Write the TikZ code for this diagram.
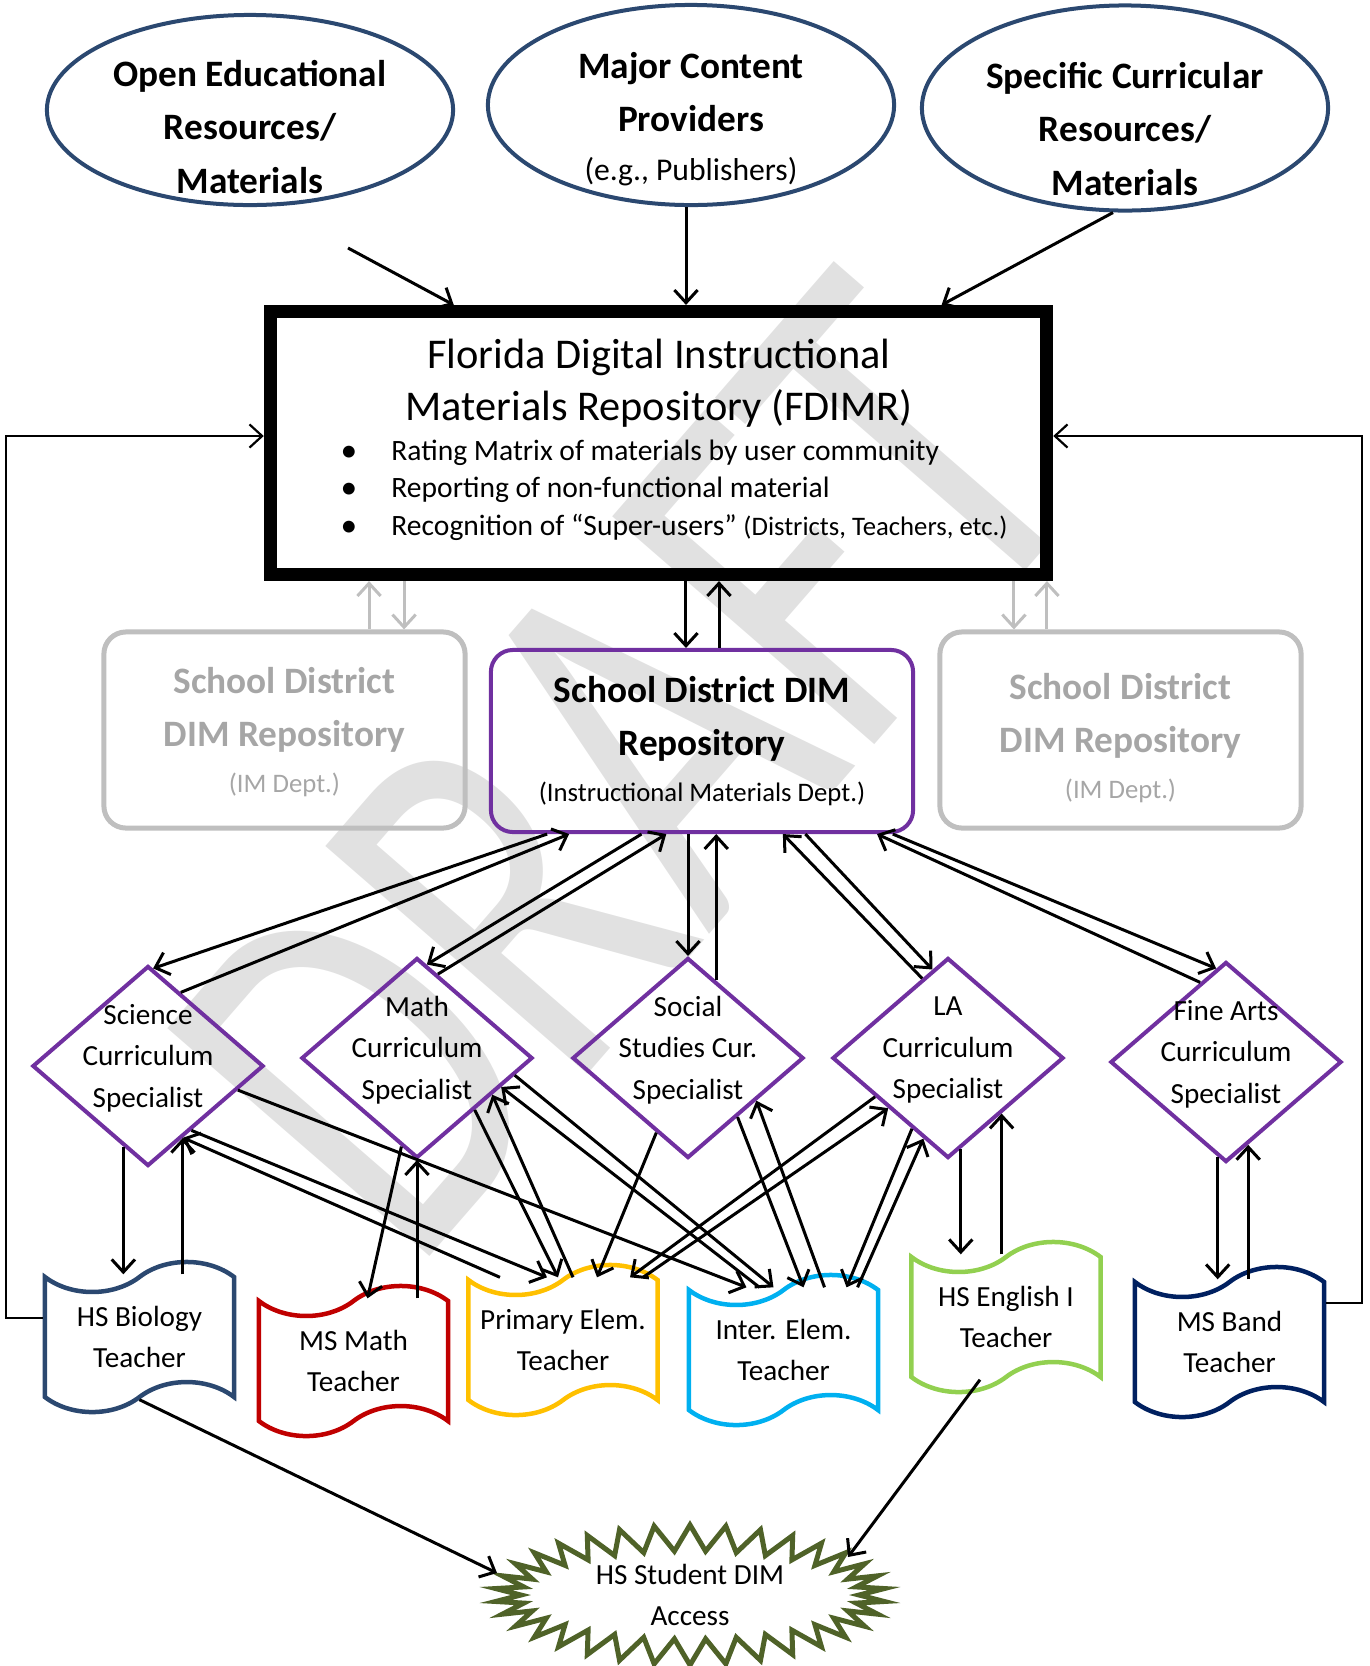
\documentclass[tikz,border=0pt]{standalone}
\usepackage{graphicx}
\usepackage{fontspec}
\setmainfont{Carlito}
\usetikzlibrary{shapes.geometric,shapes.symbols,arrows.meta,calc}

\definecolor{dimpurple}{HTML}{7030A0}
\definecolor{srcblue}{HTML}{2B4870}
\definecolor{boxgray}{HTML}{BFBFBF}
\definecolor{graytext}{HTML}{A6A6A6}
\definecolor{wmgray}{HTML}{E1E1E1}
\definecolor{biocol}{HTML}{2B4870}
\definecolor{mathcol}{HTML}{C00000}
\definecolor{primcol}{HTML}{FFC000}
\definecolor{intercol}{HTML}{00B0F0}
\definecolor{engcol}{HTML}{92D050}
\definecolor{bandcol}{HTML}{002060}
\definecolor{starcol}{HTML}{4F6228}

\newcommand{\txtbody}{\fontsize{8.3}{11.8}\selectfont}
\newcommand{\txtbig}{\fontsize{10.6}{15.1}\selectfont\bfseries}
\newcommand{\txtsmall}{\fontsize{7.6}{10}\selectfont\mdseries}
\newcommand{\txttitle}{\fontsize{12.05}{14.8}\selectfont}

\begin{document}
\begin{tikzpicture}[
    x=0.01cm, y=-0.01cm,
    src/.style={ellipse, draw=srcblue, line width=0.04cm, minimum width=4.06cm, minimum height=1.9cm, inner sep=0pt},
    srctext/.style={align=center, font=\txtbig, yshift=-0.17cm},
    repo/.style={rectangle, draw, line width=0.13cm, minimum width=7.76cm, minimum height=2.63cm},
    sdbox/.style={rectangle, rounded corners=0.22cm, draw=dimpurple, line width=0.04cm, minimum width=4.22cm, minimum height=1.82cm, align=center, font=\txtbig},
    graybox/.style={rectangle, rounded corners=0.22cm, draw=boxgray, line width=0.05cm, minimum width=3.61cm, minimum height=1.96cm, inner sep=0pt},
    graytext/.style={align=center, font=\txtbig, text=graytext},
    spec/.style={diamond, draw=dimpurple, line width=0.04cm, minimum width=2.31cm, minimum height=2cm, inner sep=0pt},
    spectext/.style={align=center, font=\txtbody, yshift=0.08cm},
    teacher/.style={tape, draw, line width=0.045cm, minimum width=1.89cm, minimum height=1.5cm, tape bend height=0.3cm, align=center, font=\txtbody},
    burst/.style={starburst, draw=starcol, line width=0.05cm, starburst points=34, starburst point height=0.26cm, random starburst=0, inner sep=0pt},
    arr/.style={-{Straight Barb[length=3.6pt,width=6.6pt]}, line width=0.03cm},
    garr/.style={arr, draw=boxgray},
    fb/.style={-{Straight Barb[length=3.6pt,width=6.6pt]}, line width=0.022cm},
    wmark/.style={text=wmgray, inner sep=0pt, rotate=49}
]
\useasboundingbox (0,0) rectangle (1369,1666);
% watermark
\node[wmark] (draft) at (625,767) {\resizebox{10.46cm}{3.47cm}{DRAFT}};

% sources
\node[src, label={[srctext]center:Open Educational\\Resources/\\Materials}] (oer) at (250,110) {};
\node[src, minimum height=2cm, label={[srctext,yshift=0.03cm]center:Major Content\\Providers\\[-1.2pt]\fontsize{9}{11}\selectfont\mdseries (e.g., Publishers)}] (mcp) at (691,105) {};
\node[src, minimum height=2.05cm, label={[srctext,yshift=-0.04cm]center:Specific Curricular\\Resources/\\Materials}] (scr) at (1125,108) {};

% state repository
\node[repo] (fdimr) at (658.5,443) {};
\node[font=\txttitle, align=center] (fdname) at (659,383) {Florida Digital Instructional\\Materials Repository (FDIMR)};
\foreach \txt [count=\i] in {Rating Matrix of materials by user community, Reporting of non-functional material, {Recognition of “Super-users” {\txtsmall (Districts, Teachers, etc.)}}} {
  \node[font=\fontsize{9.5}{11}\selectfont, anchor=base] (fddot\i) at (349, 423.5+37.5*\i) {\textbullet};
  \node[font=\fontsize{8.4}{11}\selectfont, anchor=base west] (fdpt\i) at (379, 422.5+37.5*\i) {\txt};
}

% district repositories
\node[sdbox] (sd) at (702,741) {School District DIM\\Repository\\[-2pt]\txtsmall (Instructional Materials Dept.)};
\node[graybox, label={[graytext,yshift=-0.02cm]center:School District\\DIM Repository\\[-2pt]\txtsmall (IM Dept.)}] (gl) at (284.5,730) {};
\node[graybox, label={[graytext,yshift=-0.08cm]center:School District\\DIM Repository\\[-2pt]\txtsmall (IM Dept.)}] (gr) at (1120.5,730) {};

% curriculum specialists
\node[spec, label={[spectext]center:Science\\Curriculum\\Specialist}] (sci) at (148,1066) {};
\node[spec, label={[spectext]center:Math\\Curriculum\\Specialist}] (math) at (417,1058) {};
\node[spec, label={[spectext]center:Social\\Studies Cur.\\Specialist}] (soc) at (688,1058) {};
\node[spec, label={[spectext]center:LA\\Curriculum\\Specialist}] (la) at (948,1058) {};
\node[spec, label={[spectext]center:Fine Arts\\Curriculum\\Specialist}] (fa) at (1226,1062) {};

% teachers
\node[teacher, draw=biocol] (bio) at (139.5,1337) {HS Biology\\Teacher};
\node[teacher, draw=mathcol] (msmath) at (353.5,1361) {MS Math\\Teacher};
\node[teacher, draw=primcol] (prim) at (563,1340) {Primary Elem.\\Teacher};
\node[teacher, draw=intercol] (inter) at (783.5,1350) {Inter. Elem.\\Teacher};
\node[teacher, draw=engcol] (eng) at (1006,1317) {HS English I\\Teacher};
\node[teacher, draw=bandcol] (band) at (1229.5,1342) {MS Band\\Teacher};

% students
\node[burst, minimum width=3.9cm, minimum height=1.4cm, label={[align=center, font=\txtbody]center:HS Student DIM\\Access}] (hsaccess) at (690,1595) {};

% sources to FDIMR
\coordinate (oerfoot) at (348,248);
\draw[arr] (oerfoot) -- (fdimr.146);
\draw[arr] ([xshift=-0.05cm]mcp.south) -- ([xshift=-0.05cm]mcp.south |- fdimr.north);
\draw[arr] ([xshift=-0.12cm]scr.south) -- (fdimr.26);

% FDIMR and districts
\draw[arr] ([xshift=-0.16cm]sd.north |- fdimr.south) -- ([xshift=-0.16cm]sd.north);
\draw[arr] ([xshift=0.17cm]sd.north) -- ([xshift=0.17cm]sd.north |- fdimr.south);
\draw[garr] ([xshift=0.845cm]gl.north) -- ([xshift=0.845cm]gl.north |- fdimr.south);
\draw[garr] ([xshift=1.195cm]gl.north |- fdimr.south) -- ([xshift=1.195cm]gl.north);
\draw[garr] ([xshift=-1.065cm]gr.north |- fdimr.south) -- ([xshift=-1.065cm]gr.north);
\draw[garr] ([xshift=-0.735cm]gr.north) -- ([xshift=-0.735cm]gr.north |- fdimr.south);

% district to specialists
\draw[arr] (sd.211) -- (sci.87);
\draw[arr] (sci.66) -- (sd.215);
\draw[arr] (sd.237) -- (math.84);
\draw[arr] (math.76) -- (sd.249);
\draw[arr] (soc.north |- sd.south) -- (soc.north);
\draw[arr] (soc.70) -- (soc.70 |- sd.south);
\draw[arr] (la.108) -- (sd.311);
\draw[arr] (sd.318) -- (la.100);
\draw[arr] (sd.334) -- (fa.96);
\draw[arr] (fa.108) -- (sd.332);

% specialists to teachers
\draw[arr] (sci.253) -- (sci.253 |- bio.north);
\draw[arr] (sci.296 |- bio.north) -- (sci.296);
\draw[arr] (sci.345) -- ([xshift=-0.37cm]inter.north);
\draw[arr] (sci.304) -- ([xshift=-0.16cm]prim.north);
\draw[arr] ([xshift=-0.63cm]prim.north) -- (sci.296);
\draw[arr] (math.260) -- ([xshift=0.14cm]msmath.north);
\draw[arr] (math.south |- msmath.north) -- (math.south);
\draw[arr] (math.318) -- ([xshift=-0.05cm]prim.north);
\draw[arr] ([xshift=0.1cm]prim.north) -- (math.334);
\draw[arr] (math.350) -- ([xshift=-0.1cm]inter.north);
\draw[arr] ([xshift=-0.24cm]inter.north) -- (math.341);
\draw[arr] (soc.247) -- ([xshift=0.34cm]prim.north);
\draw[arr] (la.208) -- ([xshift=0.67cm]prim.north);
\draw[arr] ([xshift=0.8cm]prim.north) -- (la.220);
\draw[arr] (soc.310) -- ([xshift=0.2cm]inter.north);
\draw[arr] ([xshift=0.41cm]inter.north) -- (soc.328);
\draw[arr] (la.243) -- ([xshift=0.63cm]inter.north);
\draw[arr] ([xshift=0.74cm]inter.north) -- (la.253);
\draw[arr] (la.278) -- (la.278 |- eng.north);
\draw[arr] (la.314 |- eng.north) -- (la.314);
\draw[arr] (fa.265) -- (fa.265 |- band.north);
\draw[arr] (fa.285 |- band.north) -- (fa.285);

% feedback to FDIMR
\draw[fb] ([yshift=0.19cm]bio.west) -- ++(-37,0) |- ([yshift=0.07cm]fdimr.west);
\draw[fb] ([yshift=0.39cm]band.east) -- ++(36,0) |- ([yshift=0.07cm]fdimr.east);

% teachers to students
\draw[arr] (bio.south) -- ($(hsaccess)+(-193,-22)$);
\draw[arr] ([xshift=-0.26cm]eng.south) -- ($(hsaccess)+(158,-38)$);
\end{tikzpicture}
\end{document}
